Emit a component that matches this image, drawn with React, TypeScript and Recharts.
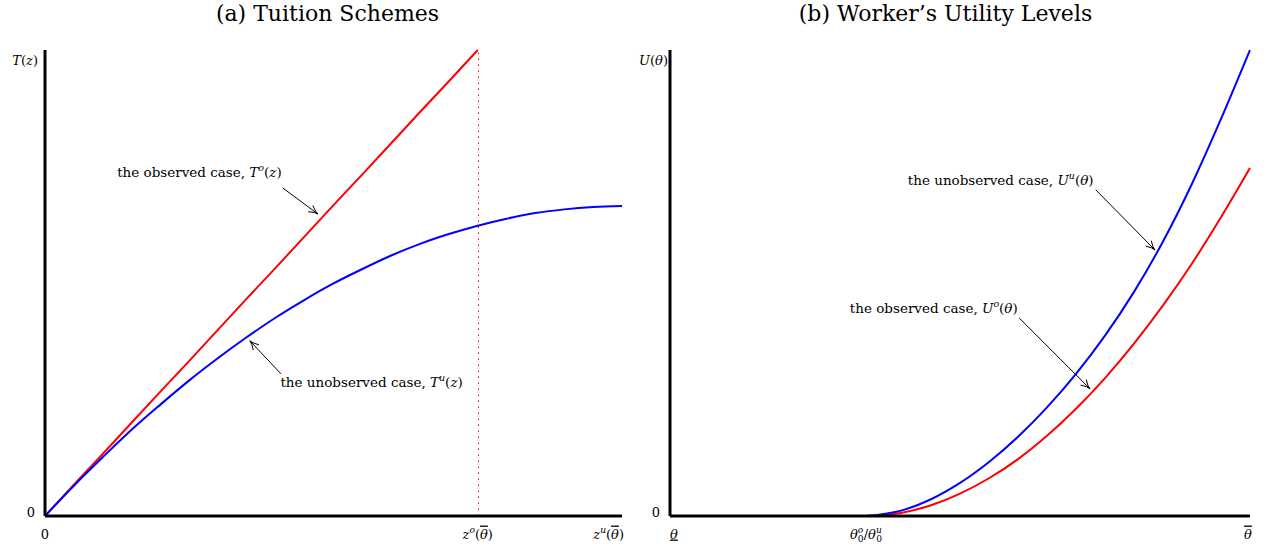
import { LineChart, Line, XAxis, YAxis, ReferenceLine, ReferenceDot } from "recharts";

// (a) tuition schemes
const tuitionZ = [0, 0.05, 0.1, 0.15, 0.2, 0.25, 0.3, 0.35, 0.4, 0.45, 0.5, 0.55, 0.6, 0.65, 0.7, 0.75, 0.8, 0.85, 0.9, 0.95, 1];
const tuitionObserved = [0, 0.067, 0.133, 0.2, 0.267, 0.333, 0.4, 0.467, 0.533, 0.6, 0.667, 0.733, 0.8, 0.867, 0.933, 1, null, null, null, null, null];
const tuitionUnobserved = [0, 0.065, 0.126, 0.185, 0.239, 0.291, 0.339, 0.384, 0.426, 0.464, 0.499, 0.53, 0.559, 0.584, 0.605, 0.623, 0.638, 0.65, 0.658, 0.663, 0.665];
const tuitionTicks = [0, 0.75, 1];
const tuitionTickLabels = ["$0$", "$z^o(θ\u0304)$", "$z^u(θ\u0304)$"];
const tuitionZbar = 0.75;

// (b) worker's utility levels
const utilityTheta = [0.338, 0.4, 0.45, 0.5, 0.55, 0.6, 0.65, 0.7, 0.75, 0.8, 0.85, 0.9, 0.95, 1];
const utilityUnobserved = [0, 0.012, 0.036, 0.071, 0.116, 0.17, 0.233, 0.305, 0.387, 0.481, 0.589, 0.713, 0.852, 1];
const utilityObserved = [0, 0.007, 0.023, 0.048, 0.081, 0.122, 0.172, 0.23, 0.296, 0.37, 0.452, 0.542, 0.641, 0.747];
const utilityTicks = [0, 0.338, 1];
const utilityTickLabels = ["$θ\u0332$", "$θ^o_0/θ^u_0$", "$θ\u0304$"];

const tuitionData = tuitionZ.map((z, i) => ({ z, obs: tuitionObserved[i], unobs: tuitionUnobserved[i] }));
const utilityData = utilityTheta.map((t, i) => ({ t, obs: utilityObserved[i], unobs: utilityUnobserved[i] }));

// annotations: text anchor (left edge, middle) and arrow from -> to, in data units
const tuitionNotes = [
  { text: "the observed case, $T^o(z)$", at: [0.125, 0.738], from: [0.412, 0.704], to: [0.473, 0.648] },
  { text: "the unobserved case, $T^u(z)$", at: [0.408, 0.288], from: [0.409, 0.305], to: [0.355, 0.376] },
];
const utilityNotes = [
  { text: "the unobserved case, $U^u(θ)$", at: [0.41, 0.721], from: [0.734, 0.7], to: [0.836, 0.571] },
  { text: "the observed case, $U^o(θ)$", at: [0.31, 0.446], from: [0.602, 0.425], to: [0.724, 0.273] },
];

const FONT = "'DejaVu Serif', serif";
const RED = "#ff0000";
const BLUE = "#0000ff";

type Seg = { s: string; italic: boolean; level: number; back?: boolean; deco?: string };

function parseMath(src: string): Seg[] {
  const toks: string[] = [];
  for (const c of Array.from(src)) {
    if (/[\u0300-\u036f]/.test(c) && toks.length) toks[toks.length - 1] += c;
    else toks.push(c);
  }
  const segs: Seg[] = [];
  let math = false;
  for (let i = 0; i < toks.length; i++) {
    let c = toks[i];
    if (c === "$") {
      math = !math;
      continue;
    }
    if (math && (c === "^" || c === "_")) {
      const n = toks[++i];
      const prev = segs[segs.length - 1];
      segs.push({ s: n, italic: /\p{L}/u.test(n), level: c === "^" ? 1 : -1, back: !!prev && prev.level !== 0 });
      continue;
    }
    let deco: string | undefined;
    if (c.includes("\u0304")) deco = "overline";
    if (c.includes("\u0332")) deco = "underline";
    if (deco) c = c.replace(/[\u0300-\u036f]/g, "");
    const italic = math && /\p{L}/u.test(c);
    const last = segs[segs.length - 1];
    if (!deco && last && last.level === 0 && last.italic === italic && !last.deco) last.s += c;
    else segs.push({ s: c, italic, level: 0, deco });
  }
  return segs;
}

function MathText({ x, y, src, size, anchor = "start" }: { x: number; y: number; src: string; size: number; anchor?: string }) {
  const segs = parseMath(src);
  let cur = 0;
  return (
    <text x={x} y={y + size * 0.35} fontSize={size} fontFamily={FONT} textAnchor={anchor as any} fill="#000">
      {segs.map((g, i) => {
        const target = g.level === 1 ? -size * 0.4 : g.level === -1 ? size * 0.3 : 0;
        const dy = target - cur;
        cur = target;
        return (
          <tspan
            key={i}
            dy={dy}
            dx={g.back ? -size * 0.42 : undefined}
            fontStyle={g.italic ? "italic" : "normal"}
            fontSize={g.level ? size * 0.7 : size}
            style={g.deco ? { textDecoration: g.deco } : undefined}
          >
            {g.s}
          </tspan>
        );
      })}
    </text>
  );
}

const Arrow = (p: any) => {
  const { x1, y1, x2, y2 } = p;
  const a = Math.atan2(y2 - y1, x2 - x1);
  const L = 10;
  const w = 0.4;
  const ax = x2 - L * Math.cos(a - w);
  const ay = y2 - L * Math.sin(a - w);
  const bx = x2 - L * Math.cos(a + w);
  const by = y2 - L * Math.sin(a + w);
  const cx = x2 - 3 * Math.cos(a);
  const cy = y2 - 3 * Math.sin(a);
  return (
    <g>
      <line x1={x1} y1={y1} x2={x2} y2={y2} stroke="#000" strokeWidth={1} />
      <path d={`M${ax},${ay} Q${cx},${cy} ${x2},${y2} Q${cx},${cy} ${bx},${by}`} fill="none" stroke="#000" strokeWidth={1} />
    </g>
  );
};

const DottedRed = (p: any) => (
  <line x1={Math.round(p.x1) + 0.5} y1={p.y1} x2={Math.round(p.x2) + 0.5} y2={p.y2} stroke={RED} strokeWidth={1} strokeDasharray="1.5 4.5" />
);

function makeXTick(ticks: number[], labels: string[], endAnchor: string, endShift: number, startShift: number) {
  return (p: any) => {
    const i = ticks.indexOf(p.payload.value);
    const last = i === ticks.length - 1;
    const dx = last ? endShift : i === 0 ? startShift : 0;
    return <MathText x={p.x + dx} y={p.y + 18} src={labels[i] ?? ""} size={13} anchor={last ? endAnchor : "middle"} />;
  };
}

function makeYTick(topLabel: string, gap: number) {
  return (p: any) => {
    if (p.payload.value === 0) return <MathText x={p.x - 10} y={p.y - 4} src="$0$" size={13} anchor="end" />;
    return <MathText x={p.x - gap} y={p.y + 10} src={topLabel} size={13} anchor="end" />;
  };
}

function Title({ text, left }: { text: string; left: number }) {
  return (
    <div style={{ position: "absolute", left, top: 0, width: 633, textAlign: "center", fontFamily: FONT, fontSize: 22, lineHeight: "28px" }}>
      {text}
    </div>
  );
}

export default function App() {
  const axisLine = { stroke: "#000", strokeWidth: 3 };
  return (
    <div style={{ position: "absolute", left: 0, top: 0, width: 1266, height: 550, background: "#fff" }}>
      <Title text="(a) Tuition Schemes" left={11} />
      <Title text="(b) Worker’s Utility Levels" left={629} />
      <div style={{ position: "absolute", left: 0, top: 0 }}>
        <LineChart width={633} height={550} data={tuitionData} margin={{ top: 50, right: 11, bottom: 0, left: 0 }}>
          <XAxis dataKey="z" type="number" domain={[0, 1]} ticks={tuitionTicks} interval={0} height={34} axisLine={axisLine} tickLine={false} tickSize={0} tickMargin={0} tick={makeXTick(tuitionTicks, tuitionTickLabels, "end", 2, 0)} />
          <YAxis type="number" domain={[0, 1]} ticks={[0, 1]} width={45} axisLine={axisLine} tickLine={false} tickSize={0} tickMargin={0} tick={makeYTick("$T(z)$", 7)} />
          <ReferenceLine x={tuitionZbar} shape={DottedRed} />
          <Line dataKey="obs" stroke={RED} strokeWidth={2} dot={false} type="linear" isAnimationActive={false} />
          <Line dataKey="unobs" stroke={BLUE} strokeWidth={2} dot={false} type="monotone" isAnimationActive={false} />
          {tuitionNotes.map((n, i) => (
            <ReferenceLine key={"a" + i} segment={[{ x: n.from[0], y: n.from[1] }, { x: n.to[0], y: n.to[1] }]} shape={Arrow} />
          ))}
          {tuitionNotes.map((n, i) => (
            <ReferenceDot key={"t" + i} x={n.at[0]} y={n.at[1]} r={1} shape={(p: any) => <MathText x={p.cx} y={p.cy} src={n.text} size={13.5} />} />
          ))}
        </LineChart>
      </div>
      <div style={{ position: "absolute", left: 633, top: 0 }}>
        <LineChart width={633} height={550} data={utilityData} margin={{ top: 50, right: 16, bottom: 0, left: 0 }}>
          <XAxis dataKey="t" type="number" domain={[0, 1]} ticks={utilityTicks} interval={0} height={34} axisLine={axisLine} tickLine={false} tickSize={0} tickMargin={0} tick={makeXTick(utilityTicks, utilityTickLabels, "middle", -2, 4)} />
          <YAxis type="number" domain={[0, 1]} ticks={[0, 1]} width={37} axisLine={axisLine} tickLine={false} tickSize={0} tickMargin={0} tick={makeYTick("$U(θ)$", 2)} />
          <Line dataKey="obs" stroke={RED} strokeWidth={2} dot={false} type="monotone" isAnimationActive={false} />
          <Line dataKey="unobs" stroke={BLUE} strokeWidth={2} dot={false} type="monotone" isAnimationActive={false} />
          {utilityNotes.map((n, i) => (
            <ReferenceLine key={"a" + i} segment={[{ x: n.from[0], y: n.from[1] }, { x: n.to[0], y: n.to[1] }]} shape={Arrow} />
          ))}
          {utilityNotes.map((n, i) => (
            <ReferenceDot key={"t" + i} x={n.at[0]} y={n.at[1]} r={1} shape={(p: any) => <MathText x={p.cx} y={p.cy} src={n.text} size={13.5} />} />
          ))}
        </LineChart>
      </div>
    </div>
  );
}
